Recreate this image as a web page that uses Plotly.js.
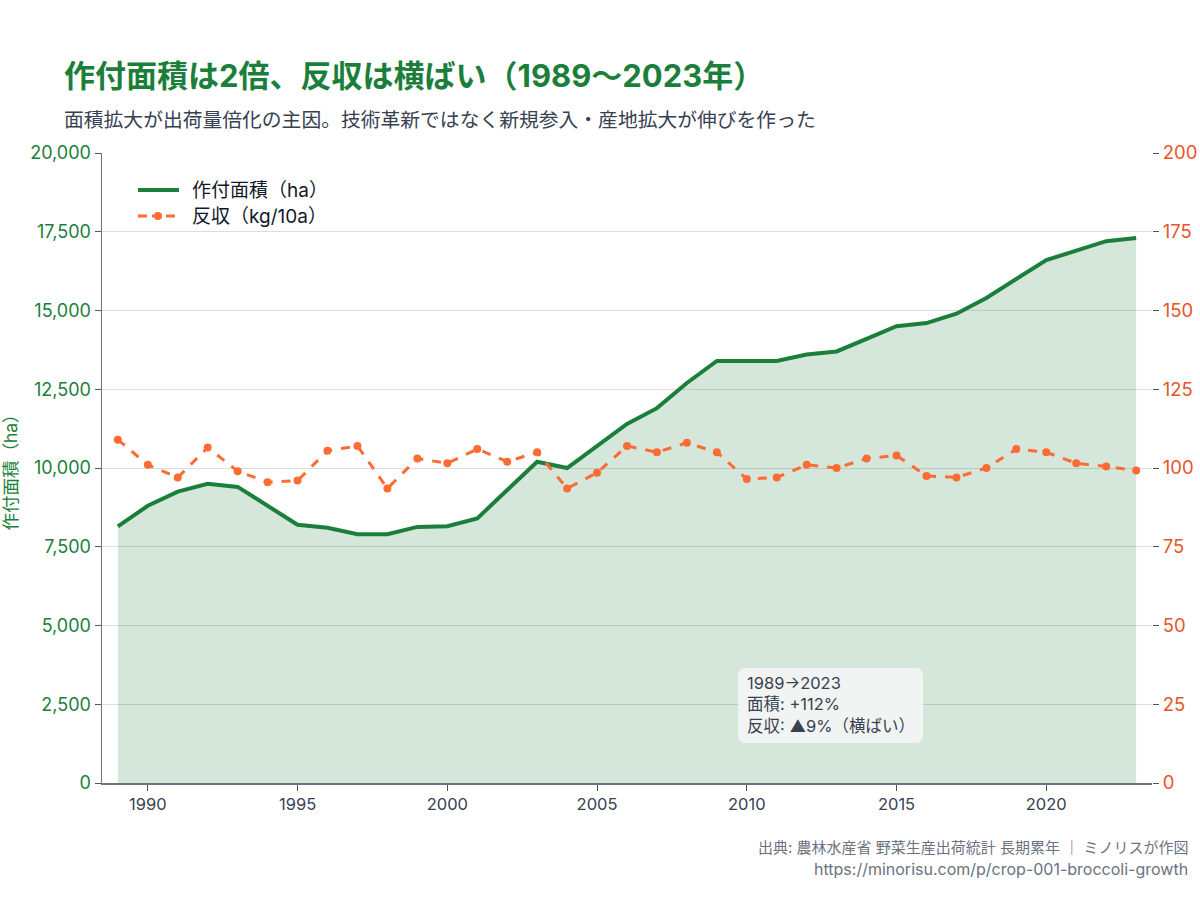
<!DOCTYPE html>
<html>
<head>
<meta charset="utf-8">
<script src="https://cdn.plot.ly/plotly-3.0.1.min.js"></script>
<style>
html,body{margin:0;padding:0;background:#fff;}
#chart{width:1200px;height:900px;}
</style>
</head>
<body>
<div id="chart"></div>
<script>
const years = [1989,1990,1991,1992,1993,1994,1995,1996,1997,1998,1999,2000,2001,2002,2003,2004,2005,2006,2007,2008,2009,2010,2011,2012,2013,2014,2015,2016,2017,2018,2019,2020,2021,2022,2023];
const areaHa = [8150,8800,9250,9500,9400,8800,8200,8100,7900,7900,8130,8150,8400,9300,10200,10000,10700,11400,11900,12700,13400,13400,13400,13600,13700,14100,14500,14600,14900,15400,16000,16600,16900,17200,17300];
const yieldKg = [109,101,97,106.5,99,95.5,96,105.5,107,93.5,103,101.5,106,102,105,93.5,98.5,107,105,108,105,96.5,97,101,100,103,104,97.5,97,100,106,105,101.5,100.5,99.2];
const seriesNames = ['作付面積（ha）', '反収（kg/10a）'];

const FONT = 'Inter, "Noto Sans CJK JP", sans-serif';
const GREEN = '#1b7f3b';
const ORANGE = '#ff6b35';
const ORANGE_TXT = '#e8552a';

const traces = [
  {
    x: years, y: areaHa, type: 'scatter', mode: 'lines',
    name: seriesNames[0],
    line: {color: GREEN, width: 4},
    fill: 'tozeroy', fillcolor: 'rgba(27,127,59,0.19)',
    yaxis: 'y', showlegend: false
  },
  {
    x: years, y: yieldKg, type: 'scatter', mode: 'lines+markers',
    name: seriesNames[1],
    line: {color: ORANGE, width: 3, dash: 'dash'},
    marker: {color: ORANGE, size: 8},
    yaxis: 'y2', showlegend: false
  }
];

// pixel -> paper helpers (plot area: x 102..1152, y 153..783)
const px = v => (v - 102) / 1050;
const py = v => (783 - v) / 630;

// rounded box for annotation
const bx0 = px(738), bx1 = px(923);
const by1 = py(668), by0 = py(743);
const rx = 8/1050, ry = 8/630;
const boxPath = `M ${bx0+rx},${by1} L ${bx1-rx},${by1} Q ${bx1},${by1} ${bx1},${by1-ry} L ${bx1},${by0+ry} Q ${bx1},${by0} ${bx1-rx},${by0} L ${bx0+rx},${by0} Q ${bx0},${by0} ${bx0},${by0+ry} L ${bx0},${by1-ry} Q ${bx0},${by1} ${bx0+rx},${by1} Z`;

const layout = {
  width: 1200, height: 900,
  paper_bgcolor: '#ffffff', plot_bgcolor: '#ffffff',
  margin: {l: 102, r: 48, t: 153, b: 117},
  font: {family: FONT, size: 16, color: '#374151'},
  showlegend: false,
  xaxis: {
    range: [1988.47, 2023.53],
    tickmode: 'linear', tick0: 1990, dtick: 5,
    ticks: 'outside', ticklen: 6, tickcolor: '#4b5563',
    showgrid: false, zeroline: false,
    showline: true, linecolor: '#6b7280', linewidth: 1.5,
    tickfont: {size: 16.5, color: '#374151'}
  },
  yaxis: {
    range: [0, 20000],
    tickmode: 'linear', tick0: 0, dtick: 2500,
    tickformat: ',d',
    ticks: 'outside', ticklen: 6, tickcolor: '#4b5563',
    showgrid: true, gridcolor: '#dcdde0', gridwidth: 1,
    zeroline: false,
    showline: true, linecolor: '#6b7280', linewidth: 1.5,
    tickfont: {size: 18, color: GREEN},
    title: {text: '作付面積（ha）', font: {size: 17.5, color: GREEN}, standoff: 10}
  },
  yaxis2: {
    range: [0, 200], overlaying: 'y', side: 'right',
    tickmode: 'linear', tick0: 0, dtick: 25,
    ticks: 'outside', ticklen: 6, tickcolor: '#4b5563',
    showgrid: false, zeroline: false, showline: false,
    tickfont: {size: 18.5, color: ORANGE_TXT}
  },
  shapes: [
    {type: 'path', xref: 'paper', yref: 'paper', path: boxPath,
     fillcolor: 'rgba(243,244,246,0.95)', line: {width: 0}, layer: 'above'},
    // custom legend symbols
    {type: 'line', xref: 'paper', yref: 'paper', x0: px(138), x1: px(179), y0: py(190), y1: py(190),
     line: {color: GREEN, width: 4}},
    {type: 'line', xref: 'paper', yref: 'paper', x0: px(138), x1: px(179), y0: py(216), y1: py(216),
     line: {color: ORANGE, width: 3, dash: '9px,5px'}},
    {type: 'circle', xref: 'paper', yref: 'paper', x0: px(154), x1: px(162), y0: py(220), y1: py(212),
     fillcolor: ORANGE, line: {width: 0}}
  ],
  annotations: [
    {xref: 'paper', yref: 'paper', x: px(62), y: py(75), xanchor: 'left', yanchor: 'middle',
     text: '<b>作付面積は2倍、反収は横ばい（1989〜2023年）</b>', showarrow: false,
     font: {size: 31, color: GREEN}},
    {xref: 'paper', yref: 'paper', x: px(62), y: py(120), xanchor: 'left', yanchor: 'middle',
     text: '面積拡大が出荷量倍化の主因。技術革新ではなく新規参入・産地拡大が伸びを作った', showarrow: false,
     font: {size: 19.8, color: '#374151'}},
    {xref: 'paper', yref: 'paper', x: px(190), y: py(190), xanchor: 'left', yanchor: 'middle',
     text: seriesNames[0], showarrow: false, font: {size: 19, color: '#111827'}},
    {xref: 'paper', yref: 'paper', x: px(190), y: py(216), xanchor: 'left', yanchor: 'middle',
     text: seriesNames[1], showarrow: false, font: {size: 19, color: '#111827'}},
    {xref: 'paper', yref: 'paper', x: px(745), y: py(671), xanchor: 'left', yanchor: 'top',
     align: 'left', showarrow: false,
     text: '1989→2023<br>面積: +112%<br>反収: ▲9%（横ばい）',
     font: {size: 16.5, color: '#374151'}},
    {xref: 'paper', yref: 'paper', x: px(1190), y: py(847), xanchor: 'right', yanchor: 'middle',
     text: '出典: 農林水産省 野菜生産出荷統計 長期累年 ｜ ミノリスが作図', showarrow: false,
     font: {size: 15, color: '#6b7280'}},
    {xref: 'paper', yref: 'paper', x: px(1190), y: py(869), xanchor: 'right', yanchor: 'middle',
     text: 'https://minorisu.com/p/crop-001-broccoli-growth', showarrow: false,
     font: {size: 16, color: '#6b7280'}}
  ]
};

Plotly.newPlot('chart', traces, layout, {displayModeBar: false, staticPlot: true});
</script>
</body>
</html>
